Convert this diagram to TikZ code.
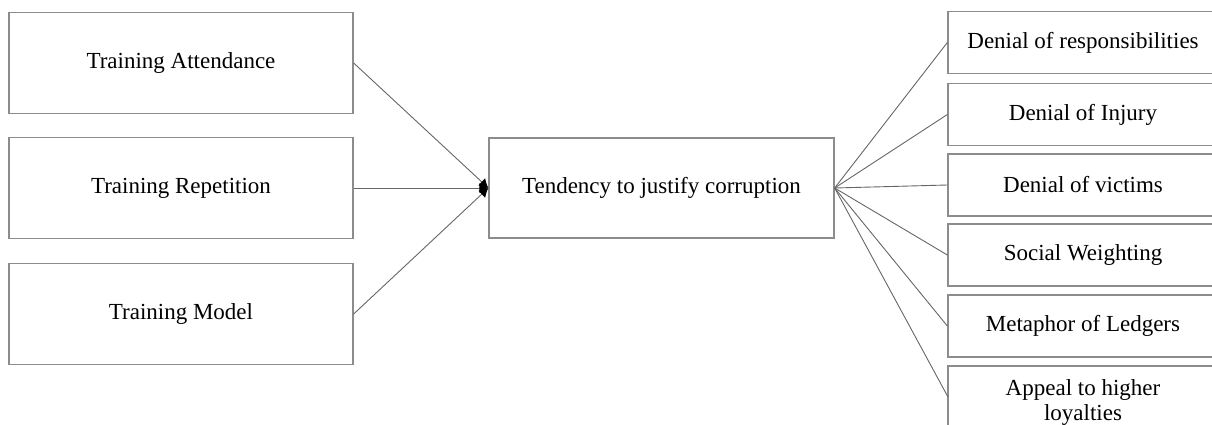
\documentclass[tikz,border=0pt]{standalone}
\usepackage{fontspec}
\setmainfont{Liberation Serif}
\usetikzlibrary{arrows.meta}
\begin{document}
\begin{tikzpicture}[x=1pt,y=-1pt,
  box/.style={draw=black!45,line width=1.3pt,fill=white,inner sep=0pt,align=center,
    font=\fontsize{23}{25}\selectfont},
  lbox/.style={box,minimum width=344pt,minimum height=101pt},
  rbox/.style={box,minimum width=270pt,minimum height=62pt},
  conn/.style={draw=black!60,line width=0.9pt},
  arr/.style={conn,-{Latex[length=9pt,width=10pt,black]}}]
\useasboundingbox (0,0) rectangle (1212,425);
\node[lbox] (ta) at (181,63) {Training Attendance};
\node[lbox] (tr) at (181,188) {Training Repetition};
\node[lbox] (tm) at (181,314) {Training Model};
\node[box,minimum width=345pt,minimum height=100pt] (tj) at (661.5,188) {Tendency to justify corruption};
\node[rbox] (r1) at (1083,42.5) {Denial of responsibilities};
\node[rbox] (r2) at (1083,114.5) {Denial of Injury};
\node[rbox] (r3) at (1083,185) {Denial of victims};
\node[rbox] (r4) at (1083,255) {Social Weighting};
\node[rbox] (r5) at (1083,326) {Metaphor of Ledgers};
\node[rbox,minimum height=72pt] (r6) at (1083,402) {Appeal to higher\\loyalties};
\coordinate (r6w) at (948,397);
\draw[arr] (ta.east) -- (tj.west);
\draw[arr] (tr.east) -- (tj.west);
\draw[arr] (tm.east) -- (tj.west);
\foreach \n in {r1,r2,r3,r4,r5} \draw[conn] (tj.east) -- (\n.west);
\draw[conn] (tj.east) -- (r6w);
\end{tikzpicture}
\end{document}
